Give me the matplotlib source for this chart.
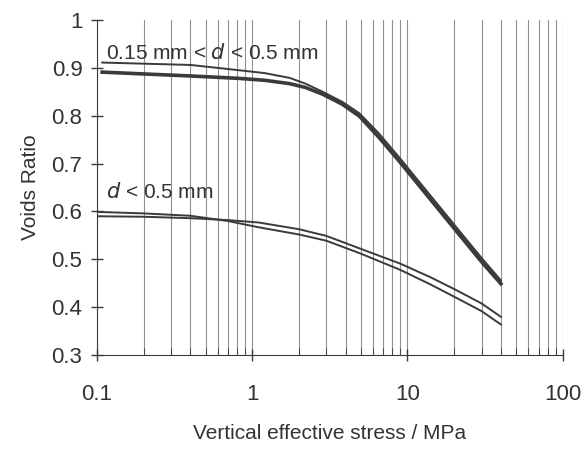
import matplotlib
matplotlib.use("Agg")
import matplotlib.pyplot as plt
from matplotlib.ticker import LogLocator, NullFormatter

plt.rcParams['font.family'] = ['Liberation Sans', 'DejaVu Sans']

# 0.15 mm < d < 0.5 mm  (vertical effective stress in MPa, voids ratio)
coarse_x = [0.108, 0.4, 0.82, 1.2, 1.74, 2.2, 2.84, 3.8, 4.9, 6.5, 8.9, 14, 20.9, 30, 40]
coarse_a = [0.911, 0.906, 0.895, 0.889, 0.879, 0.867, 0.850, 0.829, 0.805, 0.764, 0.712, 0.634, 0.565, 0.503, 0.456]
coarse_b = [0.891, 0.883, 0.878, 0.874, 0.867, 0.859, 0.845, 0.824, 0.799, 0.756, 0.704, 0.626, 0.557, 0.495, 0.449]

# d < 0.5 mm
fine_x = [0.103, 0.2, 0.4, 0.7, 1.1, 2, 3, 5, 9, 14, 20, 30, 40]
fine_a = [0.599, 0.596, 0.591, 0.580, 0.567, 0.552, 0.539, 0.512, 0.478, 0.448, 0.422, 0.392, 0.364]
fine_b = [0.590, 0.589, 0.586, 0.582, 0.577, 0.563, 0.549, 0.522, 0.491, 0.463, 0.438, 0.408, 0.380]

ink = '#3a3a3a'
txt = '#333333'

fig = plt.figure(figsize=(5.88, 4.53), dpi=100)
ax = fig.add_axes([0.165, 0.216, 0.792, 0.74])

ax.set_xscale('log')
ax.set_xlim(0.1, 100)
ax.set_ylim(0.3, 1.0)

# vertical grid at every minor decade step
ax.xaxis.set_minor_locator(LogLocator(base=10, subs=range(2, 10)))
ax.xaxis.set_minor_formatter(NullFormatter())
ax.grid(True, which='both', axis='x', color='#909090', lw=0.8)

ax.plot(coarse_x, coarse_a, color=ink, lw=1.4)
ax.plot(coarse_x, coarse_b, color=ink, lw=2.6)
ax.plot(fine_x, fine_a, color=ink, lw=1.4)
ax.plot(fine_x, fine_b, color=ink, lw=1.4)

ax.set_xticks([0.1, 1, 10, 100])
ax.set_xticklabels(['0.1', '1', '10', '100'])
ax.set_yticks([0.3, 0.4, 0.5, 0.6, 0.7, 0.8, 0.9, 1.0])
ax.set_yticklabels(['0.3', '0.4', '0.5', '0.6', '0.7', '0.8', '0.9', '1'])

ax.tick_params(axis='both', which='major', direction='inout', length=9, width=1,
               color=ink, labelcolor=txt, labelsize=16, pad=6)
ax.tick_params(axis='x', which='major', pad=16)
ax.tick_params(axis='x', which='minor', direction='in', length=5, color=ink)

for side in ['top', 'right']:
    ax.spines[side].set_visible(False)
for side in ['left', 'bottom']:
    ax.spines[side].set_color(ink)

ax.set_xlabel('Vertical effective stress / MPa', fontsize=15, color=txt, labelpad=14)
ax.set_ylabel('Voids Ratio', fontsize=15, color=txt, labelpad=8)

ax.text(0.114, 0.918, r'0.15 mm < $d$ < 0.5 mm', fontsize=15, color=txt)
ax.text(0.114, 0.628, r'$d$ < 0.5 mm', fontsize=15, color=txt)

fig.savefig('out.png', dpi=100)
